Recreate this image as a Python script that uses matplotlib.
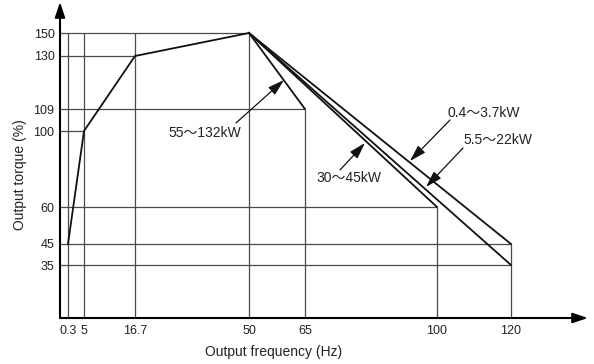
import numpy as np
import matplotlib
matplotlib.use("Agg")
import matplotlib.pyplot as plt

plt.rcParams['font.family'] = ['Liberation Sans', 'Noto Sans CJK JP', 'DejaVu Sans']

# tick values
x_ticks = [0.3, 5, 16.7, 50, 65, 100, 120]
x_labels = ["0.3", "5", "16.7", "50", "65", "100", "120"]
y_ticks = [35, 45, 60, 100, 109, 130, 150]
y_labels = ["35", "45", "60", "100", "109", "130", "150"]

# common low-speed curve
base_f = [0.3, 5, 16.7, 50]
base_t = [45, 100, 130, 150]

# high-speed segments per capacity (freq end, torque end)
caps = ["55～132kW", "30～45kW", "5.5～22kW", "0.4～3.7kW"]
cap_f = [[50, 65], [50, 100], [50, 120], [50, 120]]
cap_t = [[150, 109], [150, 60], [150, 35], [150, 45]]

# reference grid lines: horizontal (torque, f end), vertical (freq, t end)
h_lines = [(150, 50), (130, 16.7), (109, 65), (100, 5), (60, 100), (45, 120), (35, 120)]
v_lines = [(0.3, 150), (5, 150), (16.7, 150), (50, 150), (65, 109), (100, 60), (120, 45)]

# the drawing is schematic: piecewise spacing of the axes
xs_v = [0, 0.3, 5, 16.7, 50, 65, 100, 120, 141]
xs_p = [0, 8, 24, 75, 189, 245, 377, 451, 528]
ys_v = [0, 35, 45, 60, 100, 109, 130, 150, 166]
ys_p = [0, 53, 74, 111, 187, 209, 262, 285, 316]


def piecewise(v, p):
    v = np.array(v, float)
    p = np.array(p, float)

    def fwd(a):
        a = np.asarray(a, float)
        out = np.interp(a, v, p)
        s0 = (p[1] - p[0]) / (v[1] - v[0])
        s1 = (p[-1] - p[-2]) / (v[-1] - v[-2])
        out = np.where(a < v[0], p[0] + (a - v[0]) * s0, out)
        out = np.where(a > v[-1], p[-1] + (a - v[-1]) * s1, out)
        return out

    def inv(b):
        b = np.asarray(b, float)
        out = np.interp(b, p, v)
        s0 = (v[1] - v[0]) / (p[1] - p[0])
        s1 = (v[-1] - v[-2]) / (p[-1] - p[-2])
        out = np.where(b < p[0], v[0] + (b - p[0]) * s0, out)
        out = np.where(b > p[-1], v[-1] + (b - p[-1]) * s1, out)
        return out

    return fwd, inv


fig = plt.figure(figsize=(5.94, 3.64), dpi=100)
ax = fig.add_axes([60 / 594, 46 / 364, 528 / 594, 316 / 364])
ax.set_xscale("function", functions=piecewise(xs_v, xs_p))
ax.set_yscale("function", functions=piecewise(ys_v, ys_p))
ax.set_xlim(0, xs_v[-1])
ax.set_ylim(0, ys_v[-1])

grid_c = "#4a4a4a"
for t, fend in h_lines:
    ax.plot([0, fend], [t, t], color=grid_c, lw=0.9, solid_capstyle="butt")
for f, tend in v_lines:
    ax.plot([f, f], [0, tend], color=grid_c, lw=0.9, solid_capstyle="butt")

ax.plot(base_f, base_t, color="#111111", lw=1.3)
for fs, ts in zip(cap_f, cap_t):
    ax.plot(fs, ts, color="#111111", lw=1.3)

for s in ax.spines.values():
    s.set_visible(False)
ax.annotate("", xy=(1, 0), xytext=(0, 0), xycoords="axes fraction",
            arrowprops=dict(arrowstyle="-|>,head_length=0.9,head_width=0.3",
                            color="black", lw=1.5, mutation_scale=10,
                            shrinkA=0, shrinkB=0))
ax.annotate("", xy=(0, 1), xytext=(0, 0), xycoords="axes fraction",
            arrowprops=dict(arrowstyle="-|>,head_length=0.9,head_width=0.3",
                            color="black", lw=1.5, mutation_scale=10,
                            shrinkA=0, shrinkB=0))

ax.set_xticks(x_ticks)
ax.set_xticklabels(x_labels)
ax.set_yticks(y_ticks)
ax.set_yticklabels(y_labels)
ax.minorticks_off()
ax.tick_params(length=0, labelsize=9, colors="#222222", pad=5)
ax.tick_params(axis="y", pad=4)

fig.text(274 / 594, 1 - 352 / 364, "Output frequency (Hz)", ha="center", va="center",
         fontsize=10, color="#222222")
fig.text(20 / 594, 1 - 175 / 364, "Output torque (%)", ha="center", va="center",
         rotation=90, fontsize=10, color="#222222")

# capacity labels with pointer arrows (figure pixel positions)
lab_pos = [(168, 133), (316, 178), (463, 140), (448, 113)]
arr_from = [(236, 123), (340, 170), (463, 148), (450, 120)]
arr_to = [(284, 80), (365, 143), (426, 187), (410, 161)]
H = 364
for name, (tx, ty), (ax0, ay0), (ax1, ay1) in zip(caps, lab_pos, arr_from, arr_to):
    fig.text(tx / 594, 1 - ty / H, name, ha="left", va="center", fontsize=10,
             color="#222222")
    ax.annotate("", xy=(ax1, H - ay1), xytext=(ax0, H - ay0),
                xycoords="figure pixels", textcoords="figure pixels",
                arrowprops=dict(arrowstyle="-|>,head_length=1.0,head_width=0.3",
                                color="#111111", lw=0.9, mutation_scale=10,
                                shrinkA=0, shrinkB=0))

fig.savefig("out.png", dpi=100)
